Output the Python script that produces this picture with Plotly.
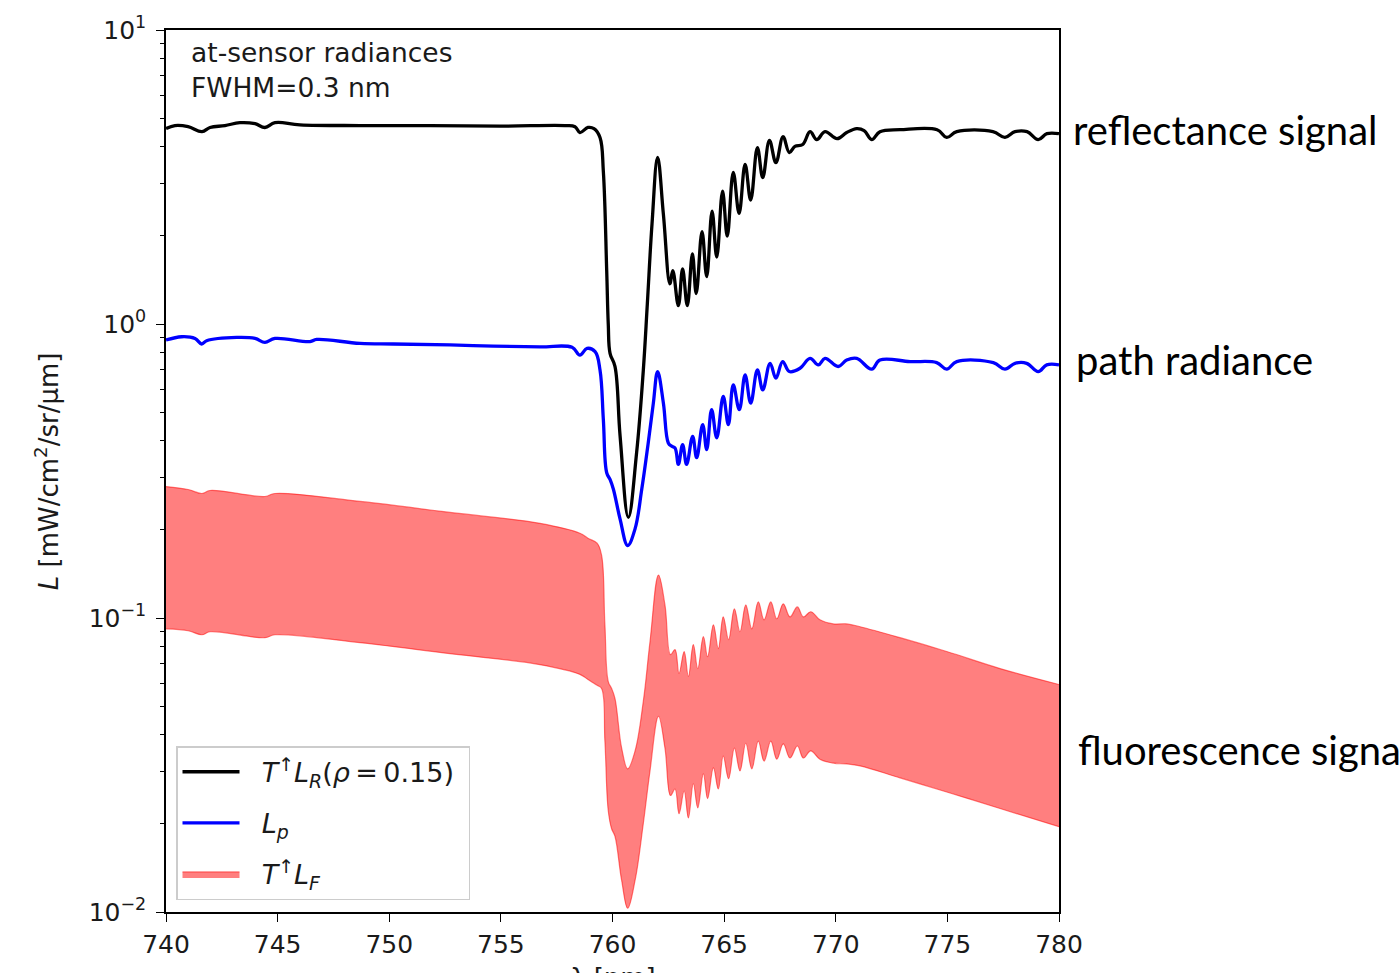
import plotly.graph_objects as go

# ---- data ----
wl_refl = [740.00, 740.40, 740.99, 741.61, 741.97, 742.64, 743.31, 743.99, 744.43, 744.88,
           746.00, 748.69, 751.83, 754.96, 757.87, 758.32, 758.54, 758.90, 759.17, 759.44,
           759.59, 759.74, 759.81, 759.89, 760.11, 760.34, 760.71, 761.08, 761.38, 761.56,
           761.77, 762.02, 762.28, 762.57, 762.70, 762.95, 763.14, 763.35, 763.58, 763.75,
           764.01, 764.22, 764.46, 764.67, 764.93, 765.14, 765.41, 765.67, 765.94, 766.19,
           766.49, 766.73, 767.03, 767.32, 767.64, 767.92, 768.17, 768.52, 768.85, 769.15,
           769.52, 770.06, 770.49, 770.94, 771.27, 771.61, 771.98, 772.88, 774.54, 774.97,
           775.42, 777.04, 777.58, 778.03, 778.57, 779.07, 779.46, 780.00]
L_refl = [4.62, 4.73, 4.69, 4.51, 4.66, 4.73, 4.84, 4.80, 4.66, 4.84,
          4.76, 4.73, 4.73, 4.71, 4.73, 4.69, 4.48, 4.66, 4.62, 4.31,
          3.30, 1.52, 1.00, 0.795, 0.718, 0.416, 0.220, 0.365, 0.696, 1.17,
          2.19, 3.69, 2.36, 1.37, 1.52, 1.155, 1.54, 1.155, 1.73, 1.27,
          2.06, 1.45, 2.42, 1.69, 2.83, 1.99, 3.28, 2.38, 3.49, 2.64,
          3.98, 3.15, 4.21, 3.54, 4.34, 3.83, 4.02, 4.08, 4.51, 4.24,
          4.51, 4.27, 4.48, 4.62, 4.55, 4.24, 4.51, 4.58, 4.58, 4.31,
          4.51, 4.51, 4.31, 4.51, 4.51, 4.24, 4.44, 4.44]

wl_path = [740.00, 740.70, 741.30, 741.60, 741.82, 743.17, 743.99, 744.43, 744.88, 746.45,
           746.75, 748.69, 750.18, 752.72, 754.66, 756.75, 758.19, 758.54, 758.86, 759.22,
           759.44, 759.59, 759.74, 759.89, 760.04, 760.34, 760.68, 761.01, 761.31, 761.60,
           761.83, 762.02, 762.28, 762.50, 762.65, 762.80, 762.95, 763.14, 763.32, 763.59,
           763.77, 764.04, 764.22, 764.44, 764.67, 764.96, 765.19, 765.41, 765.68, 765.94,
           766.19, 766.49, 766.73, 767.06, 767.32, 767.62, 767.92, 768.40, 768.85, 769.22,
           769.52, 770.11, 770.49, 770.94, 771.61, 771.98, 773.33, 774.52, 774.97, 775.42,
           777.06, 777.58, 778.03, 778.55, 779.07, 779.45, 780.00]
L_path = [0.882, 0.905, 0.893, 0.855, 0.877, 0.900, 0.893, 0.866, 0.893, 0.871,
          0.886, 0.859, 0.855, 0.849, 0.841, 0.836, 0.833, 0.784, 0.826, 0.805,
          0.698, 0.473, 0.312, 0.296, 0.274, 0.217, 0.1764, 0.201, 0.274, 0.394,
          0.538, 0.689, 0.538, 0.394, 0.384, 0.379, 0.333, 0.389, 0.333, 0.415,
          0.351, 0.455, 0.374, 0.511, 0.410, 0.567, 0.455, 0.621, 0.511, 0.671,
          0.538, 0.698, 0.597, 0.735, 0.654, 0.745, 0.689, 0.707, 0.764, 0.726,
          0.764, 0.717, 0.754, 0.764, 0.702, 0.754, 0.745, 0.739, 0.702, 0.745,
          0.739, 0.702, 0.735, 0.735, 0.689, 0.726, 0.726]

wl_fluo = [740.00, 740.99, 741.61, 741.97, 744.43, 744.88, 748.69, 752.72, 756.75, 758.54,
           758.90, 759.31, 759.51, 759.66, 759.81, 759.96, 760.11, 760.41, 760.68, 761.01,
           761.38, 761.68, 762.06, 762.35, 762.60, 762.80, 762.98, 763.21, 763.40, 763.62,
           763.82, 764.07, 764.26, 764.52, 764.74, 764.96, 765.20, 765.46, 765.71, 765.97,
           766.24, 766.53, 766.79, 767.09, 767.36, 767.65, 767.95, 768.28, 768.55, 768.88,
           769.29, 769.89, 770.49, 771.09, 772.88, 774.97, 777.36, 780.00]
L_fluo_high = [0.2800, 0.2735, 0.2651, 0.2714, 0.2590, 0.2651, 0.2491, 0.2286, 0.2099, 0.1942,
               0.1868, 0.1796, 0.1636, 0.0948, 0.0608, 0.0576, 0.0533, 0.0361, 0.0307, 0.0353,
               0.0521, 0.0831, 0.140, 0.1108, 0.0751, 0.0781, 0.0648, 0.0769, 0.0633, 0.0812,
               0.0673, 0.0864, 0.0739, 0.0948, 0.0787, 0.1009, 0.0844, 0.1074, 0.0898, 0.1108,
               0.0919, 0.1134, 0.0986, 0.1134, 0.0994, 0.1117, 0.1009, 0.1091, 0.1009, 0.1050,
               0.0986, 0.0955, 0.0955, 0.0934, 0.0857, 0.0769, 0.0673, 0.0594]
L_fluo_low = [0.0919, 0.0905, 0.0877, 0.0898, 0.0857, 0.0877, 0.0824, 0.0756, 0.0694, 0.0643,
              0.0618, 0.0590, 0.0576, 0.0381, 0.0221, 0.0192, 0.0181, 0.0128, 0.0103, 0.0128,
              0.0200, 0.0302, 0.0463, 0.0361, 0.0249, 0.0262, 0.0216, 0.0258, 0.0209, 0.0273,
              0.0226, 0.0295, 0.0243, 0.0309, 0.0262, 0.0339, 0.0284, 0.0361, 0.0302, 0.0375,
              0.0307, 0.0381, 0.0326, 0.0381, 0.0331, 0.0373, 0.0334, 0.0367, 0.0334, 0.0353,
              0.0331, 0.0321, 0.0319, 0.0314, 0.0286, 0.0256, 0.0225, 0.0195]

x_ticks = [740, 745, 750, 755, 760, 765, 770, 775, 780]
y_ticks = [0.01, 0.1, 1, 10]
y_tick_text = ["10<sup>\u22122</sup>", "10<sup>\u22121</sup>", "10<sup>0</sup>", "10<sup>1</sup>"]
y_minor = [m * 10.0 ** e for e in (-2, -1, 0) for m in range(2, 10)]

PAD = "\u00a0\u00a0"
name_refl = PAD + "<i>T</i><sup>\u2191</sup><i>L<sub>R</sub></i>(<i>\u03c1</i>\u2009=\u20090.15)\u00a0"
name_path = PAD + "<i>L<sub>p</sub></i>"
name_fluo = PAD + "<i>T</i><sup>\u2191</sup><i>L<sub>F</sub></i>"

FONT = "DejaVu Sans"
TXT = "#1a1a1a"
red_a = "rgba(255,0,0,0.5)"
SM = 1.1

fig = go.Figure()
fig.add_trace(go.Scatter(x=wl_fluo, y=L_fluo_low, mode="lines",
                         line=dict(color=red_a, width=1.2, shape="spline", smoothing=SM),
                         showlegend=False, legendgroup="c", hoverinfo="skip"))
fig.add_trace(go.Scatter(x=wl_fluo, y=L_fluo_high, mode="lines", fill="tonexty",
                         fillcolor=red_a,
                         line=dict(color=red_a, width=1.2, shape="spline", smoothing=SM),
                         name=name_fluo, legendgroup="c", legendrank=3))
fig.add_trace(go.Scatter(x=wl_refl, y=L_refl, mode="lines",
                         line=dict(color="black", width=3.3, shape="spline", smoothing=SM),
                         name=name_refl, legendgroup="a", legendrank=1))
fig.add_trace(go.Scatter(x=wl_path, y=L_path, mode="lines",
                         line=dict(color="#0000ff", width=3.3, shape="spline", smoothing=SM),
                         name=name_path, legendgroup="b", legendrank=2))

fig.update_layout(
    width=1399, height=973,
    margin=dict(l=166, r=340, t=25, b=61),
    paper_bgcolor="white", plot_bgcolor="white",
    font=dict(family=FONT, size=25, color=TXT),
    showlegend=True,
    legend=dict(x=0.0112, y=0.188, xanchor="left", yanchor="top",
                bgcolor="rgba(255,255,255,0.8)", bordercolor="#cccccc", borderwidth=1.5,
                font=dict(family=FONT, size=27, color=TXT),
                traceorder="grouped", tracegroupgap=13, itemwidth=57),
)

fig.update_xaxes(range=[740, 780], tickvals=x_ticks, ticks="outside", ticklen=8, tickwidth=1.2,
                 tickcolor="black", showline=True, linecolor="black", linewidth=1.5,
                 mirror=True, showgrid=False, zeroline=False, ticklabelstandoff=1,
                 tickfont=dict(family=FONT, size=25, color=TXT))
fig.update_yaxes(type="log", range=[-2, 1], tickvals=y_ticks, ticktext=y_tick_text,
                 ticks="outside", ticklen=8, tickwidth=1.2, tickcolor="black",
                 showline=True, linecolor="black", linewidth=1.5, mirror=True,
                 showgrid=False, zeroline=False, ticklabelstandoff=5,
                 tickfont=dict(family=FONT, size=25, color=TXT),
                 minor=dict(tickvals=y_minor, ticks="outside", ticklen=4.5, tickwidth=1,
                            tickcolor="black", showgrid=False))

annots = [
    dict(text="at-sensor radiances", x=0.0255, y=0.975, xanchor="left", yanchor="middle",
         font=dict(family=FONT, size=26.5, color=TXT)),
    dict(text="FWHM=0.3 nm", x=0.0255, y=0.935, xanchor="left", yanchor="middle",
         font=dict(family=FONT, size=26.5, color=TXT)),
    dict(text="<i>L</i> [mW/cm<sup>2</sup>/sr/\u03bcm]", x=-0.133, y=0.5, textangle=-90,
         xanchor="center", yanchor="middle", font=dict(family=FONT, size=26, color=TXT)),
    dict(text="\u03bb [nm]", x=0.5, y=-0.0744, xanchor="center", yanchor="middle",
         font=dict(family=FONT, size=26, color=TXT)),
    dict(text="reflectance signal", x=1.0135, y=(912 - 126) / 887, xanchor="left",
         yanchor="middle", font=dict(family="Lato", size=40, color="black")),
    dict(text="path radiance", x=1.0168, y=(912 - 357) / 887, xanchor="left",
         yanchor="middle", font=dict(family="Lato", size=40, color="black")),
    dict(text="fluorescence signal", x=1.0191, y=(912 - 749) / 887, xanchor="left",
         yanchor="middle", font=dict(family="Lato", size=40, color="black")),
]
for a in annots:
    fig.add_annotation(xref="paper", yref="paper", showarrow=False, **a)

fig.write_html("out.html", config={"displayModeBar": False},
               post_script="document.body.style.margin='0px';document.body.style.overflow='hidden';")
